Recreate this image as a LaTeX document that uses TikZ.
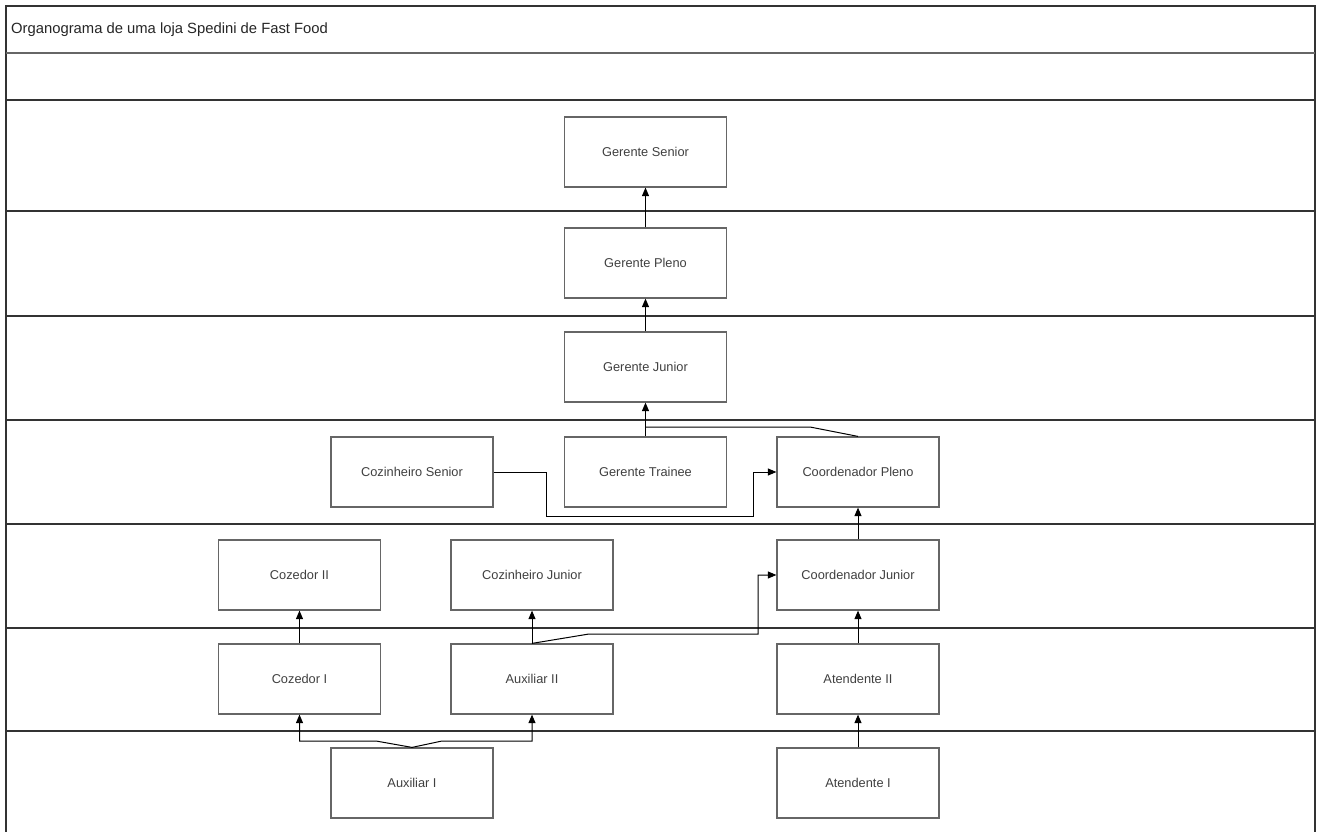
\documentclass[tikz,border=0pt]{standalone}
\usepackage{fontspec}
\setmainfont{Liberation Sans}
\usetikzlibrary{arrows.meta}
\begin{document}
\begin{tikzpicture}[x=1pt,y=-1pt,
 rolebox/.style={draw=black!60, line width=1.2pt, minimum width=162pt, minimum height=70pt, inner sep=0pt, font=\fontsize{12.8}{14}\selectfont, text=black!75},
 lane/.style={draw=black!80, line width=1.8pt},
 link/.style={draw=black, line width=1pt, -{Triangle[length=8.5pt,width=7pt]}},
 plain/.style={draw=black, line width=1pt}]
\useasboundingbox (0,0) rectangle (1317,832);
\fill[white] (0,0) rectangle (1317,832);
% frame and lanes
\draw[lane] (6,840) -- (6,6) -- (1315,6) -- (1315,840);
\draw[draw=black!60, line width=1.6pt] (6,53) -- (1315,53);
\foreach \yy in {100,211,316,420,524,628,731} \draw[lane] (6,\yy) -- (1315,\yy);
\node[anchor=west, font=\fontsize{14.8}{17}\selectfont, text=black!85, inner sep=0pt] (title) at (11,30) {Organograma de uma loja Spedini de Fast Food};
% boxes
\node[rolebox] (gs) at (645.5,152) {Gerente Senior};
\node[rolebox] (gp) at (645.5,263) {Gerente Pleno};
\node[rolebox] (gj) at (645.5,367) {Gerente Junior};
\node[rolebox] (cs) at (412,472) {Cozinheiro Senior};
\node[rolebox] (gt) at (645.5,472) {Gerente Trainee};
\node[rolebox] (cp) at (858,472) {Coordenador Pleno};
\node[rolebox] (cz2) at (299.5,575) {Cozedor II};
\node[rolebox] (cjr) at (532,575) {Cozinheiro Junior};
\node[rolebox] (cj) at (858,575) {Coordenador Junior};
\node[rolebox] (cz1) at (299.5,679) {Cozedor I};
\node[rolebox] (a2) at (532,679) {Auxiliar II};
\node[rolebox] (at2) at (858,679) {Atendente II};
\node[rolebox] (a1) at (412,783) {Auxiliar I};
\node[rolebox] (at1) at (858,783) {Atendente I};
% connectors
\draw[link] (gp.north) -- (gs.south);
\draw[link] (gj.north) -- (gp.south);
\draw[link] (gt.north) -- (gj.south);
\coordinate (m1) at (810,427);
\draw[plain] (cp.north) -- (m1) -- (gj.south |- m1);
\coordinate (c1) at (546,516);
\coordinate (c2) at (753,516);
\draw[link] (cs.east) -| (c1) -- (c2) |- (cp.west);
\draw[link] (cj.north) -- (cp.south);
\draw[link] (cz1.north) -- (cz2.south);
\draw[link] (a2.north) -- (cjr.south);
\coordinate (d1) at (589,634);
\coordinate (d2) at (758,634);
\draw[link] (a2.north) -- (d1) -- (d2) |- (cj.west);
\draw[link] (at2.north) -- (cj.south);
\coordinate (e1) at (376,741);
\coordinate (e2) at (442,741);
\draw[link] (a1.north) -- (e1) -| (cz1.south);
\draw[link] (a1.north) -- (e2) -| (a2.south);
\draw[link] (at1.north) -- (at2.south);
\end{tikzpicture}
\end{document}
